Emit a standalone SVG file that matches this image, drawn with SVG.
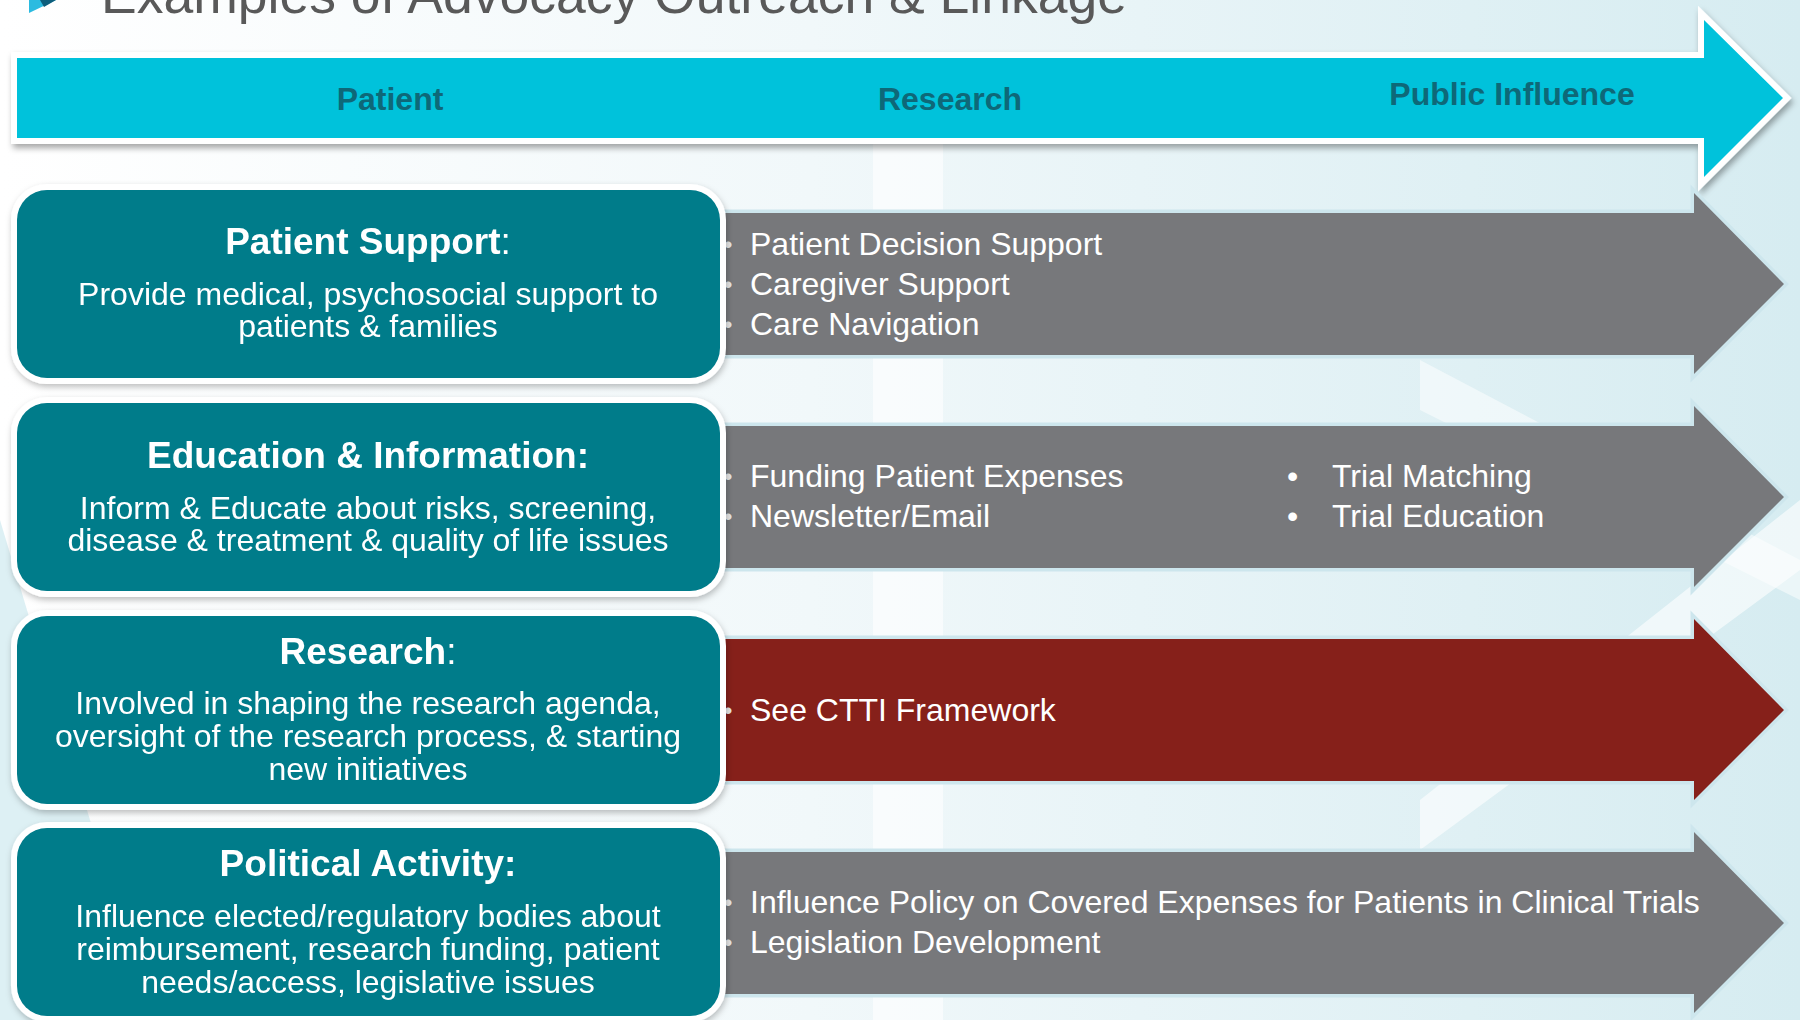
<svg xmlns="http://www.w3.org/2000/svg" width="1800" height="1020" viewBox="0 0 1800 1020">
<defs>
<linearGradient id="bg" x1="0" y1="0" x2="1" y2="0">
<stop offset="0" stop-color="#ffffff"/>
<stop offset="0.45" stop-color="#f1f8fa"/>
<stop offset="1" stop-color="#d6ecf1"/>
</linearGradient>
<filter id="sh" x="-5%" y="-20%" width="110%" height="140%">
<feDropShadow dx="2" dy="4" stdDeviation="3" flood-color="#000" flood-opacity="0.35"/>
</filter>
<filter id="sh2" x="-5%" y="-20%" width="110%" height="140%">
<feDropShadow dx="1" dy="3" stdDeviation="3" flood-color="#000" flood-opacity="0.25"/>
</filter>
<style>
.t{font-family:"Liberation Sans",Arial,Helvetica,sans-serif}
.ttl{font-size:53.5px;fill:#595959}
.hdr{font-size:32px;font-weight:bold;fill:#0e6878;text-anchor:middle}
.bt{font-size:37px;font-weight:bold;fill:#fff;text-anchor:middle}
.bb{font-size:32px;fill:#fff;text-anchor:middle}
.li{font-size:32px;fill:#fff}
.bul{font-size:24px;fill:#e6e6e6}
.bul2{font-size:32px;fill:#fff}
.n{font-weight:normal}
.box{fill:#017b8a;stroke:#fff;stroke-width:12;paint-order:stroke}
.ag{fill:#77787b;stroke:#cde6ed;stroke-width:7;paint-order:stroke;stroke-linejoin:miter}
.ar{fill:#86201a;stroke:#cde6ed;stroke-width:7;paint-order:stroke;stroke-linejoin:miter}
</style>
</defs>

<g id="background">
<rect width="1800" height="1020" fill="url(#bg)"/>
<polygon points="0,520 150,1020 0,1020" fill="#d4ecf1" opacity="0.8"/>
<rect x="873" y="140" width="70" height="880" fill="#ffffff" opacity="0.6"/>
<polygon points="1420,360 1800,560 1800,600 1420,410" fill="#ffffff" opacity="0.5"/>
<polygon points="1800,500 1420,800 1420,850 1800,570" fill="#ffffff" opacity="0.6"/>
</g>

<g id="title">
<polygon points="29,0 56,0 29,13" fill="#2bbbe0"/>
<polygon points="40,0 56,0 44,7" fill="#0d5e7c"/>
<text class="t ttl" x="101" y="13">Examples of Advocacy Outreach &amp; Linkage</text>
</g>

<g id="header">
<path d="M17,58 H1704 V20 L1783,98 L1704,177 V138 H17 Z" fill="#00c2db" stroke="#fff" stroke-width="12" stroke-linejoin="miter" paint-order="stroke" filter="url(#sh)"/>
<text class="t hdr" x="390" y="110">Patient</text>
<text class="t hdr" x="950" y="110">Research</text>
<text class="t hdr" x="1512" y="105">Public Influence</text>
</g>

<g id="connectors">
<path id="arrow1" class="ag" d="M700,213 H1694 V193 L1784,284 L1694,374 V355 H700 Z"/>
<path id="arrow2" class="ag" d="M700,426 H1694 V406 L1784,497 L1694,587 V568 H700 Z"/>
<path id="arrow3" class="ar" d="M700,639 H1694 V619 L1784,710 L1694,800 V781 H700 Z"/>
<path id="arrow4" class="ag" d="M700,852 H1694 V832 L1784,923 L1694,1013 V994 H700 Z"/>
</g>

<g id="arrow1-items">
<text class="t bul" x="724" y="253">•</text>
<text class="t bul" x="724" y="293">•</text>
<text class="t bul" x="724" y="333">•</text>
<text class="t li" x="750" y="255">Patient Decision Support</text>
<text class="t li" x="750" y="295">Caregiver Support</text>
<text class="t li" x="750" y="335">Care Navigation</text>
</g>

<g id="arrow2-items">
<text class="t bul" x="724" y="485">•</text>
<text class="t bul" x="724" y="525">•</text>
<text class="t li" x="750" y="487">Funding Patient Expenses</text>
<text class="t li" x="750" y="527">Newsletter/Email</text>
<text class="t bul2" x="1287" y="487">•</text>
<text class="t bul2" x="1287" y="527">•</text>
<text class="t li" x="1332" y="487">Trial Matching</text>
<text class="t li" x="1332" y="527">Trial Education</text>
</g>

<g id="arrow3-items">
<text class="t bul" x="724" y="719">•</text>
<text class="t li" x="750" y="721">See CTTI Framework</text>
</g>

<g id="arrow4-items">
<text class="t bul" x="724" y="911">•</text>
<text class="t bul" x="724" y="951">•</text>
<text class="t li" x="750" y="913">Influence Policy on Covered Expenses for Patients in Clinical Trials</text>
<text class="t li" x="750" y="953">Legislation Development</text>
</g>

<g id="box-patient-support" filter="url(#sh2)">
<rect class="box" x="17" y="190" width="703" height="188" rx="30"/>
<text class="t bt" x="368" y="254">Patient Support<tspan class="n">:</tspan></text>
<text class="t bb" x="368" y="305">Provide medical, psychosocial support to</text>
<text class="t bb" x="368" y="337">patients &amp; families</text>
</g>

<g id="box-education" filter="url(#sh2)">
<rect class="box" x="17" y="403" width="703" height="188" rx="30"/>
<text class="t bt" x="368" y="468">Education &amp; Information:</text>
<text class="t bb" x="368" y="519">Inform &amp; Educate about risks, screening,</text>
<text class="t bb" x="368" y="551">disease &amp; treatment &amp; quality of life issues</text>
</g>

<g id="box-research" filter="url(#sh2)">
<rect class="box" x="17" y="616" width="703" height="188" rx="30"/>
<text class="t bt" x="368" y="664">Research<tspan class="n">:</tspan></text>
<text class="t bb" x="368" y="714">Involved in shaping the research agenda,</text>
<text class="t bb" x="368" y="747">oversight of the research process, &amp; starting</text>
<text class="t bb" x="368" y="780">new initiatives</text>
</g>

<g id="box-political" filter="url(#sh2)">
<rect class="box" x="17" y="828" width="703" height="188" rx="30"/>
<text class="t bt" x="368" y="876">Political Activity:</text>
<text class="t bb" x="368" y="927">Influence elected/regulatory bodies about</text>
<text class="t bb" x="368" y="960">reimbursement, research funding, patient</text>
<text class="t bb" x="368" y="993">needs/access, legislative issues</text>
</g>
</svg>
